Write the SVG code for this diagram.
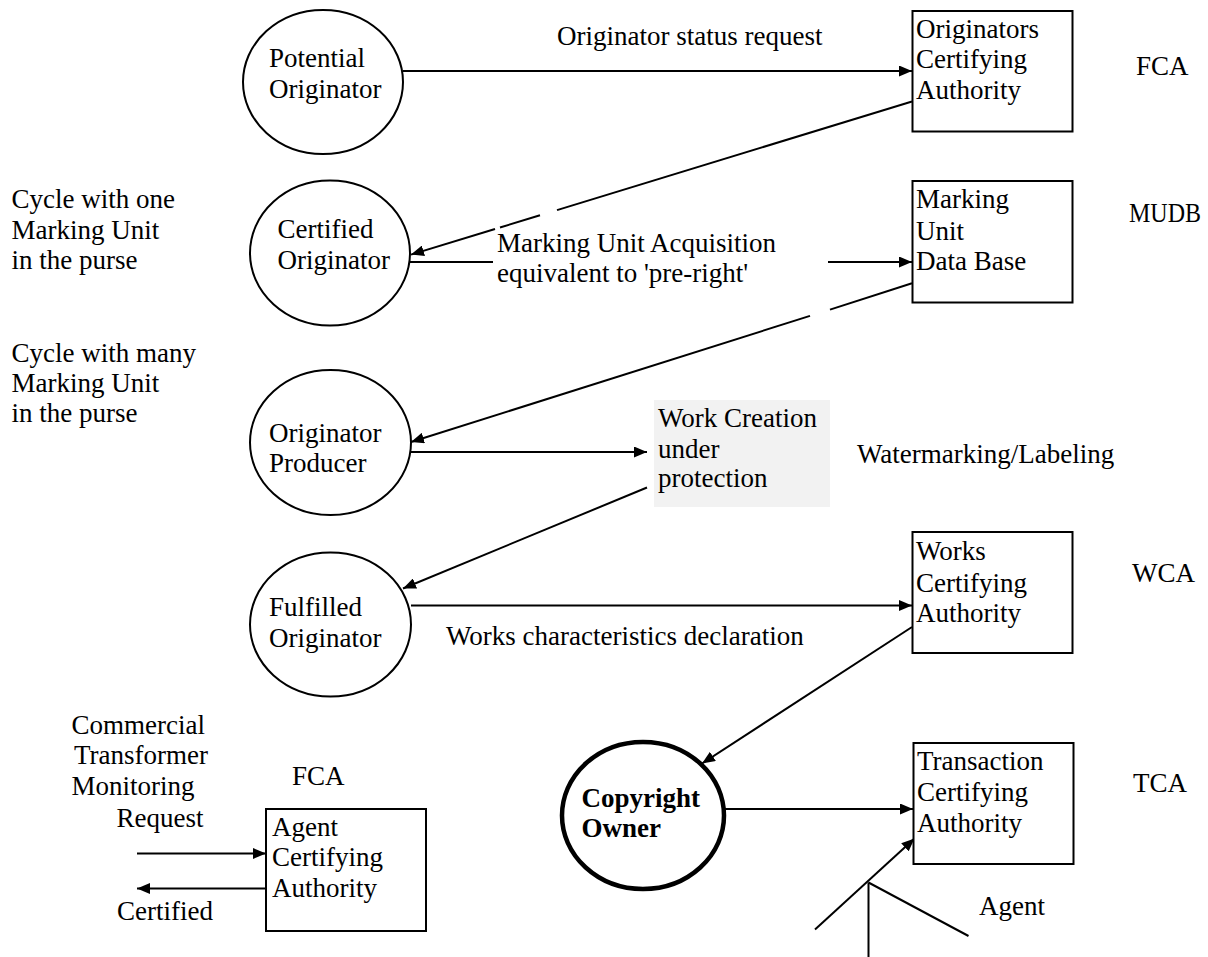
<svg xmlns="http://www.w3.org/2000/svg" width="1208" height="957" viewBox="0 0 1208 957">
<style>
text{font-family:"Liberation Serif","Times New Roman",serif;font-size:27px;fill:#000}
.b{font-weight:bold}
.node{fill:#fff;stroke:#000;stroke-width:2}
.thick{stroke-width:4.5}
.ln{stroke:#000;stroke-width:2;fill:none}
.arr{marker-end:url(#ah)}
</style>
<defs>
<marker id="ah" markerUnits="userSpaceOnUse" markerWidth="13" markerHeight="11" refX="13" refY="5.5" orient="auto">
<path d="M0,0 L13,5.5 L0,11 z" fill="#000"/>
</marker>
</defs>
<rect width="1208" height="957" fill="#fff"/>

<g id="connectors">
<line class="ln arr" x1="403" y1="71" x2="912" y2="71"/>
<line class="ln" x1="912" y1="101.5" x2="557" y2="210.1"/>
<line class="ln" x1="540" y1="215.3" x2="500" y2="227.5"/>
<line class="ln arr" x1="495" y1="229" x2="411" y2="254.6"/>
<line class="ln" x1="410" y1="262" x2="493" y2="262"/>
<line class="ln arr" x1="828" y1="262" x2="912" y2="262"/>
<line class="ln" x1="912" y1="283.3" x2="830" y2="309.6"/>
<line class="ln arr" x1="810" y1="315.9" x2="411" y2="442"/>
<line class="ln arr" x1="411" y1="452" x2="647" y2="452"/>
<line class="ln arr" x1="647" y1="487.5" x2="403" y2="588.5"/>
<line class="ln arr" x1="411" y1="605.5" x2="912" y2="605.5"/>
<line class="ln arr" x1="912" y1="627" x2="702" y2="763.5"/>
<line class="ln arr" x1="724" y1="809" x2="913" y2="809"/>
<line class="ln arr" x1="815" y1="929.5" x2="914.5" y2="838.5"/>
<line class="ln arr" x1="137" y1="853.5" x2="266" y2="853.5"/>
<line class="ln arr" x1="266" y1="888.5" x2="137" y2="888.5"/>
</g>

<g id="agent-figure">
<line class="ln" x1="868.5" y1="882.5" x2="868.5" y2="957"/>
<line class="ln" x1="868.5" y1="882.5" x2="968.5" y2="936"/>
</g>

<g id="potential-originator">
<ellipse class="node" cx="323" cy="82" rx="80" ry="72"/>
<text x="269" y="67">Potential</text>
<text x="269" y="98">Originator</text>
</g>

<g id="certified-originator">
<ellipse class="node" cx="330" cy="253" rx="80" ry="72.5"/>
<text x="277.5" y="237.5">Certified</text>
<text x="277.5" y="268.5">Originator</text>
</g>

<g id="originator-producer">
<ellipse class="node" cx="330.5" cy="442.5" rx="80.5" ry="72.5"/>
<text x="269" y="441.5">Originator</text>
<text x="269" y="471.5">Producer</text>
</g>

<g id="fulfilled-originator">
<ellipse class="node" cx="330.5" cy="624.5" rx="80.5" ry="72"/>
<text x="269" y="616">Fulfilled</text>
<text x="269" y="647">Originator</text>
</g>

<g id="copyright-owner">
<ellipse class="node thick" cx="643" cy="815.5" rx="81" ry="73.5"/>
<text class="b" x="581.5" y="806.5">Copyright</text>
<text class="b" x="581.5" y="836.5">Owner</text>
</g>

<g id="originators-ca">
<rect class="node" x="912.5" y="11" width="160" height="120.5"/>
<text x="916" y="37.5">Originators</text>
<text x="916" y="68">Certifying</text>
<text x="916" y="99">Authority</text>
</g>

<g id="mudb">
<rect class="node" x="912.5" y="181" width="160" height="121.5"/>
<text x="916" y="208">Marking</text>
<text x="916" y="239.5">Unit</text>
<text x="916" y="270">Data Base</text>
</g>

<g id="work-creation">
<rect x="654" y="400" width="176" height="107" fill="#f2f2f2"/>
<text x="658" y="427">Work Creation</text>
<text x="658" y="458">under</text>
<text x="658" y="487">protection</text>
</g>

<g id="works-ca">
<rect class="node" x="912.5" y="532" width="160" height="121"/>
<text x="916" y="560">Works</text>
<text x="916" y="591.5">Certifying</text>
<text x="916" y="622">Authority</text>
</g>

<g id="transaction-ca">
<rect class="node" x="913.5" y="743" width="160" height="121"/>
<text x="917" y="770">Transaction</text>
<text x="917" y="801">Certifying</text>
<text x="917" y="832">Authority</text>
</g>

<g id="agent-ca">
<rect class="node" x="266" y="809" width="160" height="122"/>
<text x="272" y="836">Agent</text>
<text x="272" y="866">Certifying</text>
<text x="272" y="897">Authority</text>
</g>

<g id="labels">
<text x="557" y="45">Originator status request</text>
<text x="497" y="251.5">Marking Unit Acquisition</text>
<text x="497" y="281.5">equivalent to 'pre-right'</text>
<text x="857" y="463">Watermarking/Labeling</text>
<text x="446" y="645">Works characteristics declaration</text>
<text x="1136" y="75">FCA</text>
<text x="1129" y="222" textLength="72" lengthAdjust="spacingAndGlyphs">MUDB</text>
<text x="1132" y="582">WCA</text>
<text x="1133" y="792">TCA</text>
<text x="292" y="785">FCA</text>
<text x="979" y="915">Agent</text>
<text x="11.5" y="207.5">Cycle with one</text>
<text x="11.5" y="238.5">Marking Unit</text>
<text x="11.5" y="268.5">in the purse</text>
<text x="11.5" y="361.5">Cycle with many</text>
<text x="11.5" y="391.5">Marking Unit</text>
<text x="11.5" y="421.5">in the purse</text>
<text x="71.5" y="734">Commercial</text>
<text x="74" y="763.5">Transformer</text>
<text x="71.5" y="795">Monitoring</text>
<text x="116.5" y="827">Request</text>
<text x="117" y="920">Certified</text>
</g>
</svg>
